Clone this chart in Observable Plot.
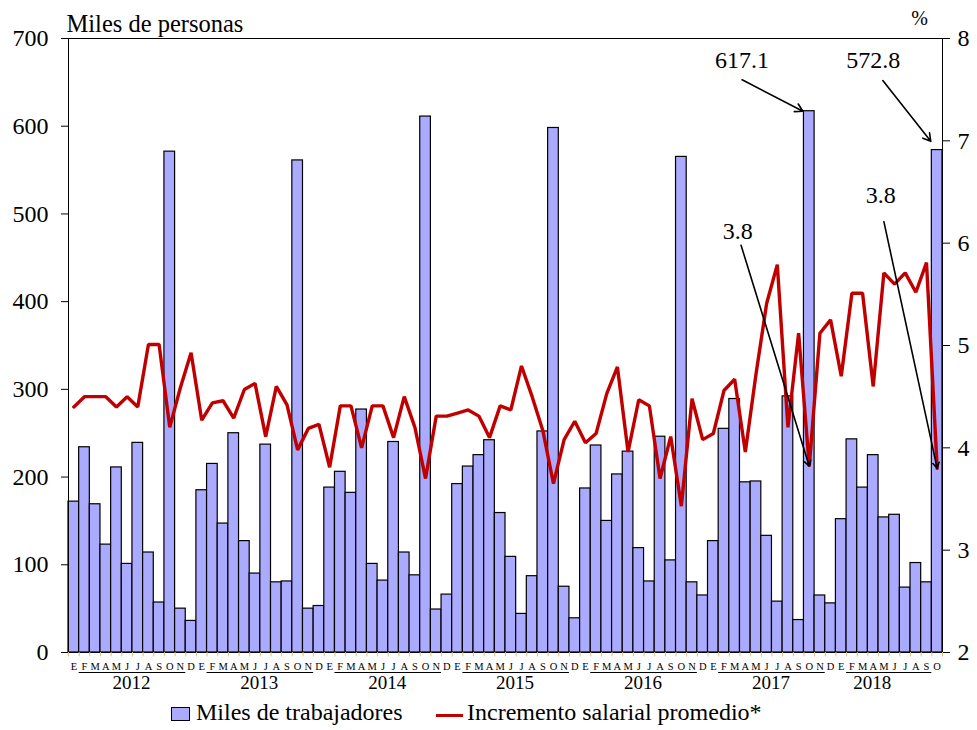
<!DOCTYPE html>
<html>
<head>
<meta charset="utf-8">
<script src="https://cdn.jsdelivr.net/npm/d3@7"></script>
<script src="https://cdn.jsdelivr.net/npm/@observablehq/plot@0.6"></script>
<style>
  body { margin: 0; background: #fff; font-family: "Liberation Serif", "Times New Roman", serif; }
  #chart svg { overflow: visible; }
  #legend { position: relative; height: 30px; width: 977px; font-size: 24px; color: #000; }
  #legend .sw { position: absolute; top: 7px; width: 19px; height: 14px; background: #aaaaff; border: 1px solid #000; box-sizing: border-box; }
  #legend .ln { position: absolute; top: 14px; width: 27px; height: 3px; background: #c00000; }
  #legend .tx { position: absolute; top: -1px; white-space: nowrap; }
</style>
</head>
<body>
<div id="chart"></div>
<div id="legend">
  <div class="sw" style="left:171px"></div><div class="tx" style="left:196px">Miles de trabajadores</div>
  <div class="ln" style="left:436px"></div><div class="tx" style="left:467px">Incremento salarial promedio*</div>
</div>
<script>
const years = [2012, 2013, 2014, 2015, 2016, 2017, 2018];
const monthLetters = ["E","F","M","A","M","J","J","A","S","O","N","D"];

// Miles de trabajadores (bars), Jan 2012 - Oct 2018
const workers = [
  172, 234, 169, 123, 211, 101, 239, 114, 57, 571, 50, 36,
  185, 215, 147, 250, 127, 90, 237, 80, 81, 561, 50, 53,
  188, 206, 182, 277, 101, 82, 240, 114, 88, 611, 49, 66,
  192, 212, 225, 242, 159, 109, 44, 87, 252, 598, 75, 39,
  187, 236, 150, 203, 229, 119, 81, 246, 105, 565, 80, 65,
  127, 255, 289, 194, 195, 133, 58, 292, 37, 617.1, 65, 56,
  152, 243, 188, 225, 154, 157, 74, 102, 80, 572.8
];

// Incremento salarial promedio (%), right axis
const wageIncrease = [
  4.40, 4.50, 4.50, 4.50, 4.40, 4.50, 4.40, 5.01, 5.01, 4.20, 4.59, 4.93,
  4.27, 4.44, 4.46, 4.29, 4.57, 4.63, 4.11, 4.60, 4.42, 3.98, 4.19, 4.23,
  3.81, 4.41, 4.41, 4.00, 4.41, 4.41, 4.10, 4.50, 4.20, 3.70, 4.31, 4.31,
  4.34, 4.37, 4.31, 4.10, 4.41, 4.37, 4.80, 4.50, 4.17, 3.65, 4.08, 4.26,
  4.05, 4.14, 4.53, 4.79, 3.96, 4.47, 4.41, 3.70, 4.11, 3.43, 4.48, 4.08,
  4.14, 4.56, 4.67, 3.96, 4.72, 5.41, 5.79, 4.20, 5.12, 3.82, 5.12, 5.25,
  4.70, 5.51, 5.51, 4.60, 5.71, 5.60, 5.71, 5.52, 5.81, 3.80
];

const leftTicks = [0, 100, 200, 300, 400, 500, 600, 700];
const rightTicks = [2, 3, 4, 5, 6, 7, 8];

// Annotations: label + arrow from label to data point
const barNotes = [
  { text: "617.1", index: 69, lx: 62.7, ly: 675, sx: 62.7, sy: 653 },
  { text: "572.8", index: 81, lx: 75.0, ly: 675, sx: 75.9, sy: 652 }
];
const lineNotes = [
  { text: "3.8", index: 69, lx: 62.3, ly: 6.12, sx: 62.6, sy: 5.98 },
  { text: "3.8", index: 81, lx: 75.7, ly: 6.47, sx: 76.0, sy: 6.21 }
];

// map % (2..8) onto the left scale (0..700)
const toLeft = p => (p - 2) * 700 / 6;
const fromLeft = v => 2 + v * 6 / 700;

const rows = workers.map((w, i) => ({
  i, month: i % 12, year: years[Math.floor(i / 12)], workers: w, wage: wageIncrease[i]
}));

const yearGroups = years.map(y => {
  const r = rows.filter(d => d.year === y);
  const first = r[0].i, last = r[r.length - 1].i;
  return { year: y, first, last, n: r.length };
});

const boundaries = d3.range(0, workers.length + 1).map(i => i - 0.5);

const font = "Liberation Serif";

const chart = Plot.plot({
  width: 977,
  height: 700,
  marginLeft: 68,
  marginRight: 35,
  marginTop: 38,
  marginBottom: 48,
  style: { fontFamily: font, background: "#fff", color: "#000", overflow: "visible" },
  x: { type: "linear", domain: [-0.5, workers.length - 0.5], axis: null },
  y: { domain: [0, 700], axis: null },
  marks: [
    // bars
    Plot.rect(rows, {
      x1: d => d.i - 0.5, x2: d => d.i + 0.5, y1: 0, y2: "workers",
      fill: "#aaaaff", stroke: "#000", strokeWidth: 1.2
    }),
    // wage line
    Plot.line(rows, {
      x: "i", y: d => toLeft(d.wage), stroke: "#c00000", strokeWidth: 3.4, strokeLinejoin: "miter"
    }),
    // frame
    Plot.ruleY([0, 700], { stroke: "#000", strokeWidth: 1 }),
    Plot.ruleX([-0.5, workers.length - 0.5], { stroke: "#000", strokeWidth: 1 }),
    // bottom small ticks
    Plot.ruleX(boundaries, { y1: 0, y2: -5, stroke: "#d2c08f", strokeWidth: 1 }),
    // left axis
    Plot.axisY(leftTicks, {
      anchor: "left", tickSize: 7, tickPadding: 13, fontSize: 24, tickFormat: d => d3.format("d")(d),
      label: null, stroke: "#000"
    }),
    // right axis (%)
    Plot.axisY(rightTicks.map(toLeft), {
      anchor: "right", tickSize: 7, tickPadding: 8, fontSize: 24,
      tickFormat: d => String(Math.round(fromLeft(d))), label: null, stroke: "#000"
    }),
    // month letters
    Plot.text(rows, {
      x: "i", y: 0, text: d => monthLetters[d.month], dy: 17, lineAnchor: "bottom", fontSize: 10.5, fill: "#000"
    }),
    // year underline
    Plot.ruleY(yearGroups, {
      y: 0, x1: d => d.first + 0.5, x2: d => d.last - 0.5, dy: 20, stroke: "#000", strokeWidth: 1
    }),
    // year labels
    Plot.text(yearGroups, {
      x: d => d.first + (d.n === 12 ? 5.4 : 2.9), y: 0, text: d => String(d.year),
      dy: 36, lineAnchor: "bottom", fontSize: 19, fill: "#000"
    }),
    // left axis title
    Plot.text(["Miles de personas"], {
      frameAnchor: "top-left", text: d => d, textAnchor: "start", lineAnchor: "bottom",
      dx: -2, dy: -7, fontSize: 24.5, fill: "#000"
    }),
    // right axis unit
    Plot.text(["%"], {
      frameAnchor: "top-right", text: d => d, textAnchor: "middle", lineAnchor: "bottom",
      dx: -23, dy: -14, fontSize: 20, fill: "#000"
    }),
    // bar annotations
    Plot.arrow(barNotes, {
      x1: "sx", y1: "sy", x2: d => d.index - 0.6, y2: d => workers[d.index] + (d.index === 81 ? 10 : 0),
      stroke: "#000", strokeWidth: 1.6, headLength: 8, bend: 0
    }),
    Plot.text(barNotes, {
      x: "lx", y: "ly", text: "text", fontSize: 24, fill: "#000", lineAnchor: "middle"
    }),
    // line annotations
    Plot.arrow(lineNotes, {
      x1: "sx", y1: d => toLeft(d.sy), x2: "index", y2: d => toLeft(wageIncrease[d.index]),
      stroke: "#000", strokeWidth: 1.6, headLength: 6, bend: 0
    }),
    Plot.text(lineNotes, {
      x: "lx", y: d => toLeft(d.ly), text: "text", fontSize: 24, fill: "#000", lineAnchor: "middle"
    })
  ]
});

document.getElementById("chart").appendChild(chart);
</script>
</body>
</html>
